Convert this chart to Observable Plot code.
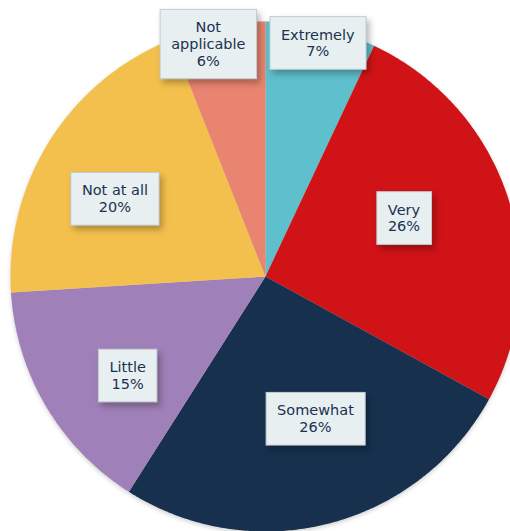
<!DOCTYPE html>
<html>
<head>
<meta charset="utf-8">
<script src="https://cdn.jsdelivr.net/npm/d3@7"></script>
<script src="https://cdn.jsdelivr.net/npm/@observablehq/plot@0.6"></script>
<style>
  html, body { margin: 0; padding: 0; background: #fff; }
  #chart { width: 510px; height: 531px; overflow: hidden; }
  .pie-slices { filter: drop-shadow(0px 2px 2px rgba(0,0,0,0.18)); }
  .label-box { filter: drop-shadow(3px 4px 3px rgba(0,0,0,0.28)); }
</style>
</head>
<body>
<div id="chart"></div>
<script>
const categories = ["Extremely", "Very", "Somewhat", "Little", "Not at all", "Not applicable"];
const values = [7, 26, 26, 15, 20, 6];
const colors = ["#5ec0cc", "#d01317", "#17304e", "#a080b8", "#f3c04e", "#e8846f"];

const W = 510, H = 531;
const cx = 265, cy = 276, R = 255;

const arcs = d3.pie().sort(null).value(d => d.value)(
  categories.map((c, i) => ({label: c, value: values[i]}))
);

// slice outlines in unit coordinates (radius 1, y up)
const slicePts = [];
for (const a of arcs) {
  const lab = a.data.label;
  slicePts.push({label: lab, x: 0, y: 0});
  const n = Math.max(2, Math.ceil((a.endAngle - a.startAngle) / (Math.PI / 360)));
  for (let k = 0; k <= n; k++) {
    const t = a.startAngle + (a.endAngle - a.startAngle) * k / n;
    slicePts.push({label: lab, x: Math.sin(t), y: Math.cos(t)});
  }
  slicePts.push({label: lab, x: 0, y: 0});
}

// label anchor points: small slices near the rim, others inside
const deg = Math.PI / 180;
const labelPts = arcs.map(a => {
  let mid = (a.startAngle + a.endAngle) / 2;
  let r;
  if (a.data.value < 10) {
    r = 0.94;
    if (mid > Math.PI) mid -= 3 * deg;
  } else {
    r = a.data.value < 25 ? 0.665 : 0.59;
    mid -= 5 * deg;
  }
  return {label: a.data.label, value: a.data.value, x: r * Math.sin(mid), y: r * Math.cos(mid)};
});

const plot = Plot.plot({
  width: W,
  height: H,
  margin: 0,
  style: {background: "transparent", overflow: "hidden"},
  x: {type: "linear", domain: [-1, 1], range: [cx - R, cx + R], axis: null},
  y: {type: "linear", domain: [-1, 1], range: [cy + R, cy - R], axis: null},
  color: {domain: categories, range: colors},
  marks: [
    Plot.line(slicePts, {
      x: "x", y: "y", z: "label", fill: "label", stroke: null,
      className: "pie-slices"
    }),
    Plot.text(labelPts, {
      x: "x", y: "y",
      text: d => `${d.label}\n${d.value}%`,
      lineWidth: 5,
      fontSize: 14.5,
      lineHeight: 1.15,
      fontFamily: "'DejaVu Sans', sans-serif",
      fill: "#1a3251",
      className: "slice-labels"
    })
  ]
});

document.getElementById("chart").appendChild(plot);

// boxes behind labels, sized from the rendered text
const svg = d3.select(plot);
svg.selectAll("g.slice-labels text").each(function () {
  const bb = this.getBBox();
  const padX = 11, padY = 10;
  const tr = this.getAttribute("transform");
  const rect = d3.select(this.parentNode).insert("rect", () => this)
    .attr("class", "label-box")
    .attr("x", bb.x - padX)
    .attr("y", bb.y - padY)
    .attr("width", bb.width + 2 * padX)
    .attr("height", bb.height + 2 * padY)
    .attr("fill", "#e8eff0")
    .attr("stroke", "#c3cdd2")
    .attr("stroke-width", 1);
  if (tr) rect.attr("transform", tr);
});
</script>
</body>
</html>
